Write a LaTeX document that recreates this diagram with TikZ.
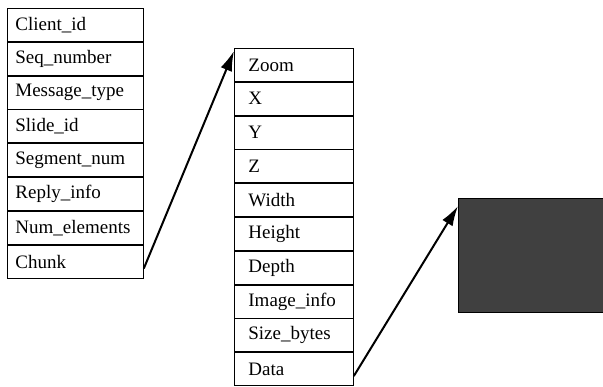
\documentclass[tikz,border=0pt]{standalone}
\usepackage{fontspec}
\setmainfont{Liberation Serif}
\usetikzlibrary{arrows.meta}
\usetikzlibrary{positioning}

\tikzset{
  field/.style={draw, line width=0.8pt, minimum height=33pt, inner ysep=0pt,
                align=left, font=\fontsize{19}{21}\selectfont},
  lfield/.style={field, inner xsep=8pt, text width=120pt},
  mfield/.style={field, inner xsep=14pt, text width=91pt},
  link/.style={-{Latex[length=20pt,width=12pt]}, line width=2pt},
}

\begin{document}
\begin{tikzpicture}[x=1pt, y=-1pt]
\useasboundingbox (0,0) rectangle (603,386);
\node [lfield, anchor=north west] (l1) at (7,8) {Client\_id};
\node [lfield, below=0pt of l1] (l2) {Seq\_number};
\node [lfield, below=0pt of l2] (l3) {Message\_type};
\node [lfield, below=0pt of l3] (l4) {Slide\_id};
\node [lfield, below=0pt of l4] (l5) {Segment\_num};
\node [lfield, below=0pt of l5] (l6) {Reply\_info};
\node [lfield, below=0pt of l6] (l7) {Num\_elements};
\node [lfield, below=0pt of l7] (l8) {Chunk};

\node [mfield, anchor=north west] (m1) at (234,48) {Zoom};
\node [mfield, below=0pt of m1] (m2) {X};
\node [mfield, below=0pt of m2] (m3) {Y};
\node [mfield, below=0pt of m3] (m4) {Z};
\node [mfield, below=0pt of m4] (m5) {Width};
\node [mfield, below=0pt of m5] (m6) {Height};
\node [mfield, below=0pt of m6] (m7) {Depth};
\node [mfield, below=0pt of m7] (m8) {Image\_info};
\node [mfield, below=0pt of m8] (m9) {Size\_bytes};
\node [mfield, below=0pt of m9] (m10) {Data};

\node [draw, line width=1.2pt, fill=black!75, anchor=north west,
       minimum width=146pt, minimum height=114pt] (img) at (458,198) {};

\draw [link] ([yshift=-7pt]l8.east) -- ([yshift=-3pt]m1.north west);
\draw [link] ([yshift=-7pt]m10.east) -- ([yshift=-8pt]img.north west);
\end{tikzpicture}
\end{document}
